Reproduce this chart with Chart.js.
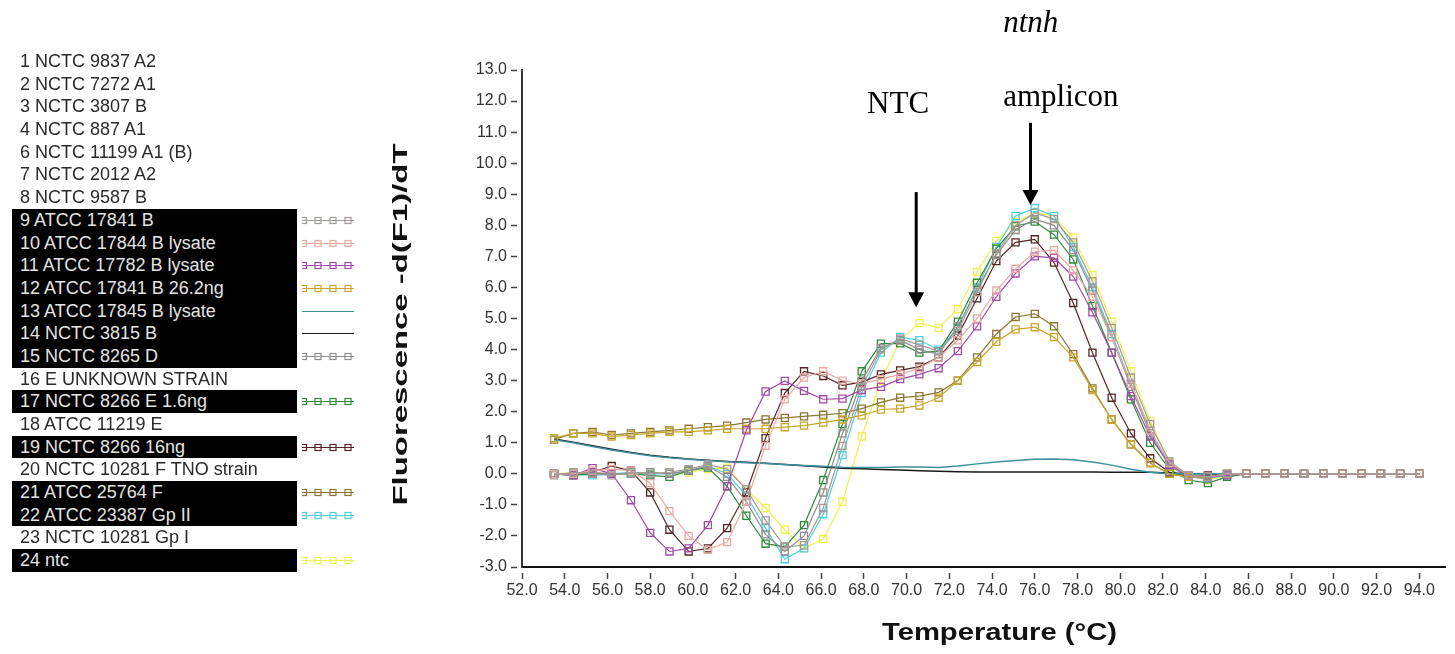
<!DOCTYPE html>
<html>
<head>
<meta charset="utf-8">
<title>ntnh melt curves</title>
<script src="https://cdn.jsdelivr.net/npm/chart.js@4.4.1/dist/chart.umd.min.js"></script>
<style>
  html, body { margin: 0; padding: 0; background: #fff; overflow: hidden; }
  #wrap { position: relative; width: 1455px; height: 654px; }
  #chartBox { position: absolute; left: 0; top: 0; width: 1455px; height: 654px; }
  #legend { position: absolute; left: 12px; top: 50px; width: 345px; font-family: "Liberation Sans", Arial, sans-serif; font-size: 18px; }
  .row { position: relative; height: 22.7px; line-height: 22.7px; }
  .row .name { position: absolute; left: 0; width: 285px; height: 22.7px; padding-left: 8px; box-sizing: border-box; color: #2a2a2a; white-space: nowrap; }
  .row.on .name { background: #000; color: #e4e4e4; }
  .row canvas { position: absolute; left: 290px; top: 5px; }
</style>
</head>
<body>
<div id="wrap">
  <div id="chartBox"><canvas id="meltChart"></canvas></div>
  <div id="legend"></div>
</div>
<script>
// sample list shown on the left (rows with a curve are highlighted)
const sampleNames = ['1 NCTC 9837 A2', '2 NCTC 7272 A1', '3 NCTC 3807 B', '4 NCTC 887 A1',
  '6 NCTC 11199 A1 (B)', '7 NCTC 2012 A2', '8 NCTC 9587 B', '9 ATCC 17841 B',
  '10 ATCC 17844 B lysate', '11 ATCC 17782 B lysate', '12 ATCC 17841 B 26.2ng',
  '13 ATCC 17845 B lysate', '14 NCTC 3815 B', '15 NCTC 8265 D', '16 E UNKNOWN STRAIN',
  '17 NCTC 8266 E 1.6ng', '18 ATCC 11219 E', '19 NCTC 8266 16ng', '20 NCTC 10281 F TNO strain',
  '21 ATCC 25764 F', '22 ATCC 23387 Gp II', '23 NCTC 10281 Gp I', '24 ntc'];

// temperature of each reading (°C)
const temps = [53.5, 54.4, 55.3, 56.2, 57.1, 58.0, 58.9, 59.8, 60.7, 61.6, 62.5, 63.4, 64.3, 65.2,
  66.1, 67.0, 67.9, 68.8, 69.7, 70.6, 71.5, 72.4, 73.3, 74.2, 75.1, 76.0, 76.9, 77.8, 78.7, 79.6,
  80.5, 81.4, 82.3, 83.2, 84.1, 85.0, 85.9, 86.8, 87.7, 88.6, 89.5, 90.4, 91.3, 92.2, 93.1, 94.0];

// -d(F1)/dT per sample
const s9 = [-0.05, 0.05, 0.0, -0.05, 0.05, 0.0, 0.05, 0.15, 0.3, 0.15, -0.5, -1.5, -2.35, -2.3, -1.1, 0.9,
  2.8, 4.0, 4.35, 4.15, 3.95, 4.6, 5.85, 7.1, 8.0, 8.4, 8.2, 7.45, 6.2, 4.7, 3.1, 1.6, 0.4, -0.05, -0.1,
  0, 0, 0, 0, 0, 0, 0, 0, 0, 0, 0];
const s10 = [0.0, 0.0, 0.1, 0.15, 0.1, -0.3, -1.2, -2.0, -2.45, -2.2, -0.9, 0.9, 2.4, 3.1, 3.3, 3.0,
  2.9, 3.05, 3.2, 3.4, 3.75, 4.3, 5.0, 5.9, 6.6, 7.15, 7.2, 6.55, 5.7, 4.4, 2.9, 1.4, 0.35, -0.05, -0.1,
  0, 0, 0, 0, 0, 0, 0, 0, 0, 0, 0];
const s11 = [0.0, -0.05, 0.18, 0.0, -0.85, -1.9, -2.5, -2.4, -1.65, -0.4, 1.4, 2.65, 2.99, 2.67, 2.4, 2.42,
  2.7, 2.8, 3.05, 3.2, 3.4, 3.95, 4.75, 5.7, 6.45, 7.0, 6.95, 6.35, 5.2, 3.9, 2.5, 1.2, 0.3, -0.05, -0.1,
  -0.05, 0, 0, 0, 0, 0, 0, 0, 0, 0, 0];
const s12 = [1.15, 1.3, 1.3, 1.2, 1.25, 1.3, 1.35, 1.35, 1.4, 1.45, 1.45, 1.45, 1.5, 1.55, 1.65, 1.75,
  1.88, 2.07, 2.1, 2.2, 2.45, 3.0, 3.6, 4.25, 4.65, 4.72, 4.4, 3.75, 2.7, 1.75, 0.95, 0.35, 0.0, -0.1, -0.1,
  0, 0, 0, 0, 0, 0, 0, 0, 0, 0, 0];
const s13 = [1.1, 1.0, 0.88, 0.77, 0.67, 0.58, 0.52, 0.47, 0.43, 0.39, 0.36, 0.33, 0.3, 0.27, 0.24, 0.21,
  0.2, 0.2, 0.22, 0.22, 0.2, 0.25, 0.32, 0.38, 0.43, 0.47, 0.48, 0.45, 0.38, 0.28, 0.15, 0.05, 0.0, 0,
  0, 0, 0, 0, 0, 0, 0, 0, 0, 0, 0, 0];
const s14 = [1.12, 1.02, 0.9, 0.79, 0.69, 0.6, 0.53, 0.48, 0.44, 0.4, 0.37, 0.34, 0.3, 0.26, 0.22, 0.18,
  0.16, 0.14, 0.12, 0.1, 0.08, 0.07, 0.06, 0.06, 0.06, 0.06, 0.06, 0.06, 0.06, 0.05, 0.05, 0.05, 0.03, 0,
  0, 0, 0, 0, 0, 0, 0, 0, 0, 0, 0, 0];
const s15 = [0.0, 0.0, 0.05, 0.0, 0.0, 0.05, 0.0, 0.1, 0.25, -0.1, -0.9, -1.95, -2.5, -2.0, -0.6, 1.3,
  3.0, 4.05, 4.3, 4.0, 3.85, 4.75, 5.95, 7.05, 7.85, 8.2, 8.0, 7.2, 5.9, 4.4, 2.8, 1.3, 0.25, -0.1, -0.15,
  0, 0, 0, 0, 0, 0, 0, 0, 0, 0, 0];
const s17 = [0.0, -0.05, 0.0, 0.0, 0.0, -0.05, -0.1, 0.1, 0.2, -0.4, -1.35, -2.25, -2.35, -1.65, -0.2, 1.6,
  3.3, 4.19, 4.2, 3.9, 3.95, 4.9, 6.15, 7.25, 7.97, 8.12, 7.7, 6.9, 5.4, 3.9, 2.4, 1.0, 0.15, -0.2, -0.3,
  -0.1, 0, 0, 0, 0, 0, 0, 0, 0, 0, 0];
const s19 = [0.0, 0.0, 0.05, 0.25, 0.1, -0.6, -1.8, -2.5, -2.4, -1.75, -0.6, 1.15, 2.6, 3.3, 3.15, 2.85,
  2.95, 3.2, 3.33, 3.45, 3.75, 4.45, 5.65, 6.85, 7.45, 7.55, 6.8, 5.5, 3.9, 2.45, 1.3, 0.5, 0.05, -0.1, -0.05,
  0, 0, 0, 0, 0, 0, 0, 0, 0, 0, 0];
const s21 = [1.1, 1.3, 1.35, 1.25, 1.3, 1.35, 1.4, 1.45, 1.5, 1.55, 1.65, 1.75, 1.8, 1.85, 1.9, 1.95,
  2.1, 2.3, 2.45, 2.5, 2.62, 3.0, 3.75, 4.5, 5.05, 5.15, 4.75, 3.85, 2.75, 1.75, 0.95, 0.35, 0.0, -0.1, -0.1,
  0, 0, 0, 0, 0, 0, 0, 0, 0, 0, 0];
const s22 = [0.0, 0.0, -0.05, 0.0, 0.05, 0.0, 0.0, 0.1, 0.25, 0.0, -0.7, -1.75, -2.75, -2.4, -1.3, 0.6,
  2.6, 3.9, 4.4, 4.3, 4.0, 4.7, 6.0, 7.3, 8.3, 8.55, 8.3, 7.3, 6.0, 4.5, 2.9, 1.4, 0.3, -0.1, -0.15,
  -0.05, 0, 0, 0, 0, 0, 0, 0, 0, 0, 0];
const s24 = [0.0, 0.05, 0.0, 0.0, 0.0, 0.05, 0.0, 0.05, 0.15, 0.2, -0.5, -1.1, -1.8, -2.4, -2.1, -0.9,
  1.2, 3.0, 4.3, 4.85, 4.7, 5.3, 6.5, 7.5, 8.1, 8.4, 8.3, 7.6, 6.4, 4.9, 3.3, 1.7, 0.4, -0.05, -0.2,
  -0.05, 0, 0, 0, 0, 0, 0, 0, 0, 0, 0];

const seriesNames = ['9 ATCC 17841 B', '10 ATCC 17844 B lysate', '11 ATCC 17782 B lysate',
  '12 ATCC 17841 B 26.2ng', '13 ATCC 17845 B lysate', '14 NCTC 3815 B', '15 NCTC 8265 D',
  '17 NCTC 8266 E 1.6ng', '19 NCTC 8266 16ng', '21 ATCC 25764 F', '22 ATCC 23387 Gp II', '24 ntc'];
const seriesValues = [s9, s10, s11, s12, s13, s14, s15, s17, s19, s21, s22, s24];

// axis ticks
const xTickStep = 2;
const yTickStep = 1;

// styles (kept apart from the data)
const seriesColors = ['#a39a96', '#e9a9a3', '#a24aa8', '#c9a62a', '#3f8f9f', '#1a1a1a',
  '#8d8d8d', '#2f8a3c', '#552525', '#8c7634', '#4ccfe0', '#f0f050'];
const plainLines = ['13 ATCC 17845 B lysate', '14 NCTC 3815 B'];
const FONT = '"Liberation Sans", Arial, sans-serif';

// arrows and labels, in data units
const arrows = [
  { t: 75.8, from: 11.3, to: 8.65 },
  { t: 70.45, from: 9.07, to: 5.36 }
];
const notes = [
  { text: 'ntnh', t: 74.52, v: 14.22, italic: true },
  { text: 'amplicon', t: 74.52, v: 11.84 },
  { text: 'NTC', t: 68.15, v: 11.61 }
];

const datasets = seriesNames.map((name, i) => {
  const plain = plainLines.includes(name);
  return {
    label: name,
    data: seriesValues[i].map((v, k) => ({ x: temps[k], y: v })),
    borderColor: seriesColors[i],
    backgroundColor: 'transparent',
    borderWidth: plain ? 1.5 : 1.2,
    pointStyle: 'rect',
    pointRadius: plain ? 0 : 5,
    pointBorderWidth: 1.3,
    pointBorderColor: seriesColors[i],
    pointBackgroundColor: 'transparent',
    tension: 0
  };
});

// stretched text, like the pasted-in axis titles of the original figure
function stretchText(ctx, text, x, y, width, rotate) {
  ctx.save();
  ctx.translate(x, y);
  if (rotate) ctx.rotate(-Math.PI / 2);
  const w = ctx.measureText(text).width;
  ctx.scale(width / w, 1);
  ctx.textAlign = 'center';
  ctx.textBaseline = 'alphabetic';
  ctx.fillText(text, 0, 0);
  ctx.restore();
}

const decorations = {
  id: 'decorations',
  afterDraw(chart) {
    const { ctx, chartArea, scales: { x, y } } = chart;
    ctx.save();
    ctx.fillStyle = '#000';
    ctx.strokeStyle = '#000';

    arrows.forEach(a => {
      const px = x.getPixelForValue(a.t);
      const top = y.getPixelForValue(a.from);
      const tip = y.getPixelForValue(a.to);
      ctx.lineWidth = 3;
      ctx.beginPath();
      ctx.moveTo(px, top);
      ctx.lineTo(px, tip - 10);
      ctx.stroke();
      ctx.beginPath();
      ctx.moveTo(px - 8, tip - 15);
      ctx.lineTo(px + 8, tip - 15);
      ctx.lineTo(px, tip);
      ctx.closePath();
      ctx.fill();
    });

    ctx.textAlign = 'left';
    ctx.textBaseline = 'alphabetic';
    notes.forEach(n => {
      ctx.font = (n.italic ? 'italic ' : '') + '31px "Liberation Serif", "Times New Roman", serif';
      ctx.fillText(n.text, x.getPixelForValue(n.t), y.getPixelForValue(n.v));
    });

    // axis titles
    ctx.fillStyle = '#111';
    ctx.font = 'bold 21px ' + FONT;
    stretchText(ctx, 'Fluorescence -d(F1)/dT', chartArea.left - 115, (chartArea.top + chartArea.bottom) / 2 + 6, 362, true);
    ctx.font = 'bold 24px ' + FONT;
    stretchText(ctx, 'Temperature (°C)', (chartArea.left + chartArea.right) / 2 + 16, chartArea.bottom + 73, 235, false);
    ctx.restore();
  }
};

const chart = new Chart(document.getElementById('meltChart'), {
  type: 'line',
  data: { datasets },
  options: {
    responsive: true,
    maintainAspectRatio: false,
    animation: false,
    devicePixelRatio: 1,
    layout: { padding: { left: 440, top: 70, right: 10, bottom: 0 } },
    plugins: { legend: { display: false }, tooltip: { enabled: false } },
    scales: {
      x: {
        type: 'linear',
        min: 52,
        max: 95.2,
        afterFit(s) { s.height = 87; },
        border: { color: '#111', width: 2 },
        grid: { drawOnChartArea: false, tickLength: 12, tickBorderDash: [0, 5, 6, 20], tickColor: '#444', tickWidth: 1.5 },
        ticks: {
          stepSize: xTickStep, includeBounds: false, autoSkip: false, maxRotation: 0, padding: 2,
          color: '#333', font: { family: FONT, size: 16 },
          callback: v => Number(v).toFixed(1)
        }
      },
      y: {
        min: -3,
        max: 13,
        afterFit(s) { s.width = 82; },
        border: { color: '#333', width: 2 },
        grid: { drawOnChartArea: false, tickLength: 11, tickBorderDash: [6, 20], tickColor: '#444', tickWidth: 1.5 },
        ticks: {
          stepSize: yTickStep, padding: 4,
          color: '#333', font: { family: FONT, size: 16 },
          callback: v => Number(v).toFixed(1)
        }
      }
    }
  },
  plugins: [decorations]
});

// sample list with line swatches
function drawSwatch(cv, ds) {
  const c = cv.getContext('2d');
  c.strokeStyle = ds.borderColor;
  c.lineWidth = 1.2;
  c.beginPath();
  c.moveTo(0, 6.5);
  c.lineTo(52, 6.5);
  c.stroke();
  if (ds.pointRadius > 0) {
    [1.5, 16, 31, 46].forEach(cx => c.strokeRect(cx - 3, 3.5, 6, 6));
  }
}

const legendEl = document.getElementById('legend');
sampleNames.forEach(name => {
  const row = document.createElement('div');
  row.className = 'row';
  const label = document.createElement('div');
  label.className = 'name';
  label.textContent = name;
  row.appendChild(label);
  const ds = chart.data.datasets.find(d => d.label === name);
  if (ds) {
    row.classList.add('on');
    const cv = document.createElement('canvas');
    cv.width = 52;
    cv.height = 13;
    drawSwatch(cv, ds);
    row.appendChild(cv);
  }
  legendEl.appendChild(row);
});
</script>
</body>
</html>
